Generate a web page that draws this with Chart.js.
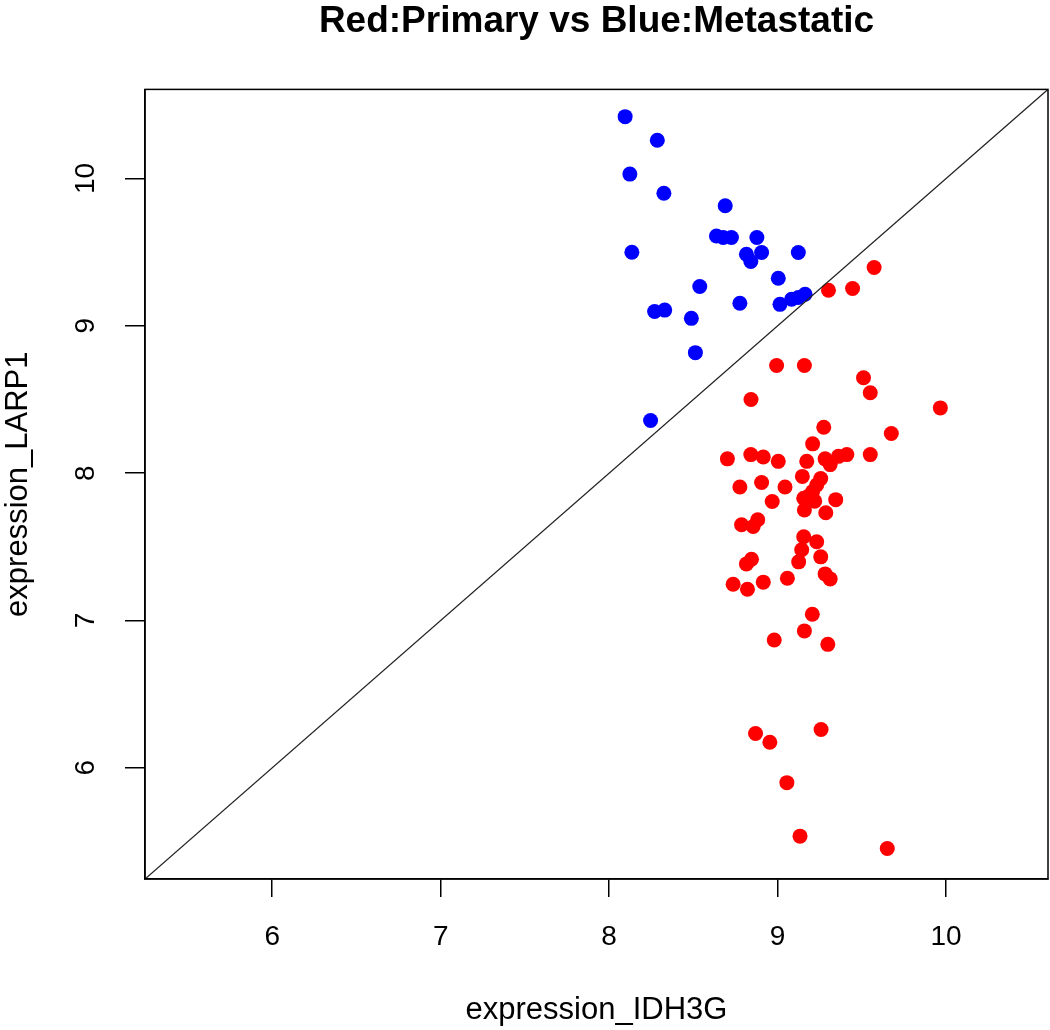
<!DOCTYPE html>
<html>
<head>
<meta charset="utf-8">
<script src="https://cdn.jsdelivr.net/npm/chart.js@4.4.1/dist/chart.umd.min.js"></script>
<style>
  html, body { margin: 0; padding: 0; background: #fff; }
</style>
</head>
<body>
<canvas id="scatterChart" width="1050" height="1030"></canvas>
<script>
// 데이터
const primaryX = [9.302, 9.445, 9.573, 8.994, 9.159, 9.51, 9.55, 8.842, 9.966, 9.274,
  9.675, 9.208, 8.702, 8.841, 8.915, 9.004, 9.173, 9.282, 9.312, 9.361,
  9.411, 9.55, 9.147, 9.256, 9.232, 9.208, 9.178, 9.155, 9.22, 8.776,
  8.905, 9.044, 9.345, 8.968, 9.159, 9.286, 8.786, 8.855, 8.882, 9.155,
  9.232, 9.143, 9.125, 9.256, 8.845, 8.815, 8.736, 8.821, 8.915, 9.058,
  9.282, 9.312, 9.206, 9.159, 8.98, 9.298, 8.869, 8.954, 9.258, 9.055,
  9.133, 9.651];
const primaryY = [9.242, 9.253, 9.396, 8.731, 8.731, 8.648, 8.546, 8.50, 8.443, 8.312,
  8.269, 8.199, 8.097, 8.126, 8.110, 8.080, 8.080, 8.097, 8.058, 8.114,
  8.126, 8.126, 7.978, 7.963, 7.92, 7.875, 7.840, 7.83, 7.81, 7.906,
  7.937, 7.906, 7.82, 7.808, 7.75, 7.731, 7.65, 7.638, 7.684, 7.568,
  7.534, 7.480, 7.398, 7.432, 7.416, 7.384, 7.246, 7.212, 7.26, 7.287,
  7.316, 7.282, 7.042, 6.929, 6.867, 6.838, 6.233, 6.173, 6.26, 5.899,
  5.536, 5.452];
const metastaticX = [8.095, 8.286, 8.123, 8.325, 8.689, 8.637, 8.677, 8.726, 8.877, 8.135,
  8.815, 8.841, 8.905, 9.123, 9.004, 8.538, 8.776, 9.014, 9.083, 9.123,
  9.163, 8.488, 8.27, 8.33, 8.512, 8.246];
const metastaticY = [10.42, 10.26, 10.03, 9.90, 9.815, 9.61, 9.60, 9.60, 9.60, 9.50,
  9.486, 9.437, 9.498, 9.498, 9.323, 9.267, 9.153, 9.146, 9.18, 9.192,
  9.214, 9.051, 9.097, 9.107, 8.818, 8.357];
const axisRange = [5.245, 10.605];
const xTicks = [6, 7, 8, 9, 10];
const yTicks = [6, 7, 8, 9, 10];

const FONT = '"Liberation Sans", Arial, sans-serif';

function toPoints(xs, ys) {
  return xs.map((x, i) => ({ x: x, y: ys[i] }));
}

// 외곽 상자 + 눈금 글자 (세로축은 회전)
const frameAndLabels = {
  id: 'frameAndLabels',
  afterDraw(chart) {
    const { ctx, chartArea } = chart;
    ctx.save();
    ctx.strokeStyle = '#000';
    ctx.lineWidth = 1.5;
    ctx.strokeRect(chartArea.left, chartArea.top,
      chartArea.right - chartArea.left, chartArea.bottom - chartArea.top);

    ctx.fillStyle = '#000';
    ctx.font = '28px ' + FONT;
    ctx.textAlign = 'center';
    ctx.textBaseline = 'middle';

    const xScale = chart.scales.x;
    xScale.ticks.forEach(t => {
      ctx.fillText(String(t.value), xScale.getPixelForValue(t.value), chartArea.bottom + 58);
    });

    const yScale = chart.scales.y;
    yScale.ticks.forEach(t => {
      const py = yScale.getPixelForValue(t.value);
      ctx.save();
      ctx.translate(86, py);
      ctx.rotate(-Math.PI / 2);
      ctx.fillText(String(t.value), 0, 0);
      ctx.restore();
    });
    ctx.restore();
  }
};

const ctx = document.getElementById('scatterChart').getContext('2d');

new Chart(ctx, {
  type: 'scatter',
  data: {
    datasets: [
      {
        type: 'line',
        label: 'y = x',
        data: toPoints(axisRange, axisRange),
        borderColor: '#222',
        borderWidth: 1.3,
        pointRadius: 0,
        fill: false
      },
      {
        label: 'Primary',
        data: toPoints(primaryX, primaryY),
        backgroundColor: '#ff0000',
        borderWidth: 0,
        pointRadius: 7.5
      },
      {
        label: 'Metastatic',
        data: toPoints(metastaticX, metastaticY),
        backgroundColor: '#0000ff',
        borderWidth: 0,
        pointRadius: 7.5
      }
    ]
  },
  options: {
    responsive: false,
    animation: false,
    devicePixelRatio: 1,
    layout: { autoPadding: false, padding: { right: 2, top: 0, bottom: 0, left: 0 } },
    plugins: {
      legend: { display: false },
      tooltip: { enabled: false },
      title: {
        display: true,
        fullSize: false,
        text: 'Red:Primary vs Blue:Metastatic',
        color: '#000',
        font: { family: FONT, size: 37, weight: 'bold', lineHeight: 1.2 },
        padding: { top: 0, bottom: 45 }
      }
    },
    scales: {
      x: {
        type: 'linear',
        min: axisRange[0],
        max: axisRange[1],
        afterBuildTicks: s => { s.ticks = xTicks.map(v => ({ value: v })); },
        afterFit: s => { s.height = 151; },
        grid: { drawOnChartArea: false, tickLength: 18, color: '#000', lineWidth: 1.5 },
        border: { color: '#000', width: 1.5 },
        ticks: { display: false },
        title: {
          display: true,
          text: 'expression_IDH3G',
          color: '#000',
          font: { family: FONT, size: 31 },
          padding: { top: 0, bottom: 1 }
        }
      },
      y: {
        type: 'linear',
        min: axisRange[0],
        max: axisRange[1],
        afterBuildTicks: s => { s.ticks = yTicks.map(v => ({ value: v })); },
        afterFit: s => { s.width = 145; },
        grid: { drawOnChartArea: false, tickLength: 20, color: '#000', lineWidth: 1.5 },
        border: { color: '#000', width: 1.5 },
        ticks: { display: false },
        title: {
          display: true,
          text: 'expression_LARP1',
          color: '#000',
          font: { family: FONT, size: 31 },
          padding: { top: 0, bottom: 1 }
        }
      }
    }
  },
  plugins: [frameAndLabels]
});
</script>
</body>
</html>
